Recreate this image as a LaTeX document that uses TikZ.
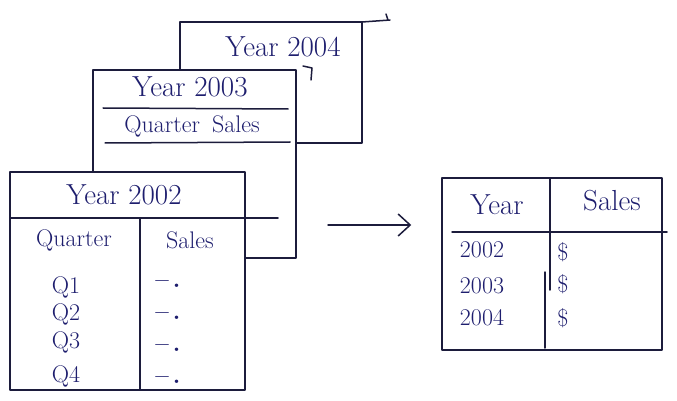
\documentclass[tikz,border=0pt]{standalone}
\usetikzlibrary{arrows.meta}
\definecolor{ink}{RGB}{28,28,60}
\definecolor{pen}{RGB}{30,30,110}
\tikzset{
  x=1pt,y=-1pt,
  ln/.style={draw=ink,line width=1.5pt,line cap=round,line join=round},
  card/.style={ln,fill=white},
  txt/.style={text=pen,font=\fontsize{29}{32}\selectfont,inner sep=0pt},
  small/.style={text=pen,font=\fontsize{24}{27}\selectfont,inner sep=0pt},
  dashtext/.style={text=pen,font=\fontsize{24}{27}\selectfont\bfseries,inner sep=0pt},
}
\begin{document}
\begin{tikzpicture}
\useasboundingbox (0,0) rectangle (677,401);
% year 2004 card
\draw[card] (180,22) rectangle (362,143);
\draw[ln] (362,22) -- (390,20);
\draw[ln] (388,20) -- (386,14);
\node[txt] (y4) at (283,47) {Year 2004};
% year 2003 card
\draw[card] (93,70) rectangle (296,258);
\draw[ln] (303,66) -- (312,68) -- (311,80);
\node[txt] (y3) at (190,87) {Year 2003};
\draw[ln] (103,108) -- (288,109);
\node[small] (q3) at (192,126) {Quarter\enspace Sales};
\draw[ln] (105,143) -- (290,142);
% year 2002 card
\draw[card] (10,172) rectangle (245,390);
\draw[ln] (10,218) -- (278,218);
\draw[ln] (140,218) -- (140,390);
\node[txt] (y2) at (124,195) {Year 2002};
\node[small] (hq) at (74,240) {Quarter};
\node[small] (hs) at (190,240) {Sales};
\node[small] (r1) at (66,287) {Q1};
\node[small] (r2) at (66,314) {Q2};
\node[small] (r3) at (66,342) {Q3};
\node[small] (r4) at (66,376) {Q4};
\node[dashtext] (d1) at (168,284) {--\,.};
\node[dashtext] (d2) at (168,316) {--\,.};
\node[dashtext] (d3) at (168,348) {--\,.};
\node[dashtext] (d4) at (168,380) {--\,.};
% result table
\node[ln,minimum width=220pt,minimum height=172pt,inner sep=0pt] (rt) at (552,264) {};
\draw[ln] (452,232) -- (667,232);
\draw[ln] (550,178) -- (550,290);
\draw[ln] (545,272) -- (545,348);
\node[txt] (ty) at (497,205) {Year};
\node[txt] (ts) at (612,201) {Sales};
\node[small] (t2) at (482,250) {2002};
\node[small] (t3) at (482,286) {2003};
\node[small] (t4) at (482,318) {2004};
\node[small] (s2) at (563,252) {\$};
\node[small] (s3) at (563,284) {\$};
\node[small] (s4) at (563,318) {\$};
% arrow
\coordinate (as) at (328,225);
\draw[ln,-{Straight Barb[length=12pt,width=22pt,line width=1.5pt]},shorten >=30pt] (as) -- (rt.west |- as);
\end{tikzpicture}
\end{document}
